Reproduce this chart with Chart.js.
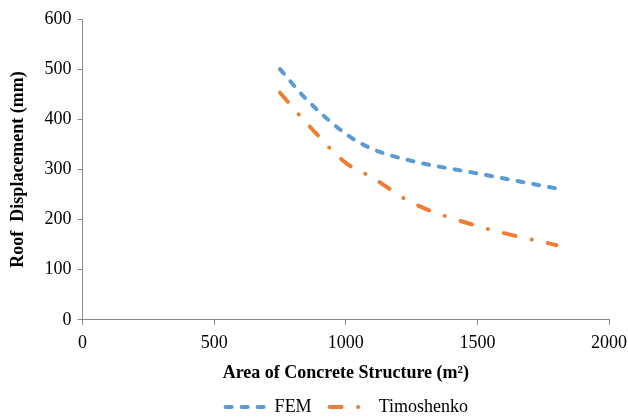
<!DOCTYPE html>
<html>
<head>
<meta charset="utf-8">
<script src="https://cdn.jsdelivr.net/npm/chart.js@4"></script>
<style>
  html, body { margin: 0; padding: 0; background: #fff; }
  #wrap { width: 628px; height: 419px; }
</style>
</head>
<body>
<div id="wrap"><canvas id="roofChart" width="628" height="419"></canvas></div>
<script>
// Values
const areas = [750, 850, 1000, 1100, 1250, 1500, 1800];
const femValues = [500, 440, 371, 341, 317, 292, 262];
const timoValues = [453, 393, 313, 284, 234, 187, 149];
const xTicks = [0, 500, 1000, 1500, 2000];
const yTicks = [0, 100, 200, 300, 400, 500, 600];

const axisGrey = '#898989';
const serif = "'Liberation Serif', 'DejaVu Serif', serif";

function toPoints(xs, ys) {
  return xs.map((x, i) => ({ x: x, y: ys[i] }));
}

// legend drawn under the x title, centred on the plot area
const bottomLegend = {
  id: 'bottomLegend',
  afterDraw(chart) {
    const ctx = chart.ctx;
    const y = 407;
    const sample = 44;
    ctx.save();
    ctx.font = '18px ' + serif;
    const items = chart.data.datasets.map(ds => ({ ds: ds, w: ctx.measureText(ds.label).width }));
    let total = 0;
    items.forEach((it, i) => { total += sample + 7 + it.w + (i < items.length - 1 ? 16 : 0); });
    let x = (chart.chartArea.left + chart.chartArea.right) / 2 - total / 2;
    items.forEach(it => {
      ctx.strokeStyle = it.ds.borderColor;
      ctx.lineWidth = it.ds.borderWidth;
      ctx.lineCap = 'round';
      ctx.setLineDash(it.ds.borderDash);
      ctx.beginPath();
      ctx.moveTo(x + 2, y);
      ctx.lineTo(x + sample - 2, y);
      ctx.stroke();
      ctx.setLineDash([]);
      ctx.fillStyle = '#000';
      ctx.textBaseline = 'middle';
      ctx.fillText(it.ds.label, x + sample + 7, y);
      x += sample + 7 + it.w + 16;
    });
    ctx.restore();
  }
};

new Chart(document.getElementById('roofChart'), {
  type: 'scatter',
  data: {
    datasets: [
      {
        label: 'FEM',
        data: toPoints(areas, femValues),
        showLine: true,
        borderColor: '#5B9BD5',
        backgroundColor: '#5B9BD5',
        borderWidth: 4,
        borderDash: [6, 10],
        borderCapStyle: 'round',
        cubicInterpolationMode: 'monotone',
        pointRadius: 0
      },
      {
        label: 'Timoshenko',
        data: toPoints(areas, timoValues),
        showLine: true,
        borderColor: '#ED7D31',
        backgroundColor: '#ED7D31',
        borderWidth: 4,
        borderDash: [12, 16.5, 0.1, 16.5],
        borderCapStyle: 'round',
        cubicInterpolationMode: 'monotone',
        pointRadius: 0
      }
    ]
  },
  options: {
    responsive: false,
    animation: false,
    layout: { padding: { top: 19, right: 19, bottom: 35, left: 8 } },
    plugins: {
      legend: { display: false },
      tooltip: { enabled: false }
    },
    scales: {
      x: {
        type: 'linear',
        min: 0,
        max: 2000,
        afterBuildTicks: axis => { axis.ticks = xTicks.map(v => ({ value: v })); },
        afterFit: axis => { axis.paddingRight = 0; },
        grid: { drawOnChartArea: false, color: axisGrey, tickLength: 5 },
        border: { color: axisGrey, width: 1 },
        ticks: { color: '#000', font: { family: serif, size: 18 }, padding: 8, callback: v => String(v) },
        title: {
          display: true,
          text: 'Area of Concrete Structure (m²)',
          color: '#000',
          font: { family: serif, size: 18, weight: 'bold' },
          padding: { top: 0, bottom: 0 }
        }
      },
      y: {
        type: 'linear',
        min: 0,
        max: 600,
        afterBuildTicks: axis => { axis.ticks = yTicks.map(v => ({ value: v })); },
        grid: { drawOnChartArea: false, color: axisGrey, tickLength: 5 },
        border: { color: axisGrey, width: 1 },
        ticks: { color: '#000', font: { family: serif, size: 18 }, padding: 6, callback: v => String(v) },
        title: {
          display: true,
          text: 'Roof  Displacement (mm)',
          color: '#000',
          font: { family: serif, size: 18, weight: 'bold' },
          padding: { top: 0, bottom: 9 }
        }
      }
    }
  },
  plugins: [bottomLegend]
});
</script>
</body>
</html>
